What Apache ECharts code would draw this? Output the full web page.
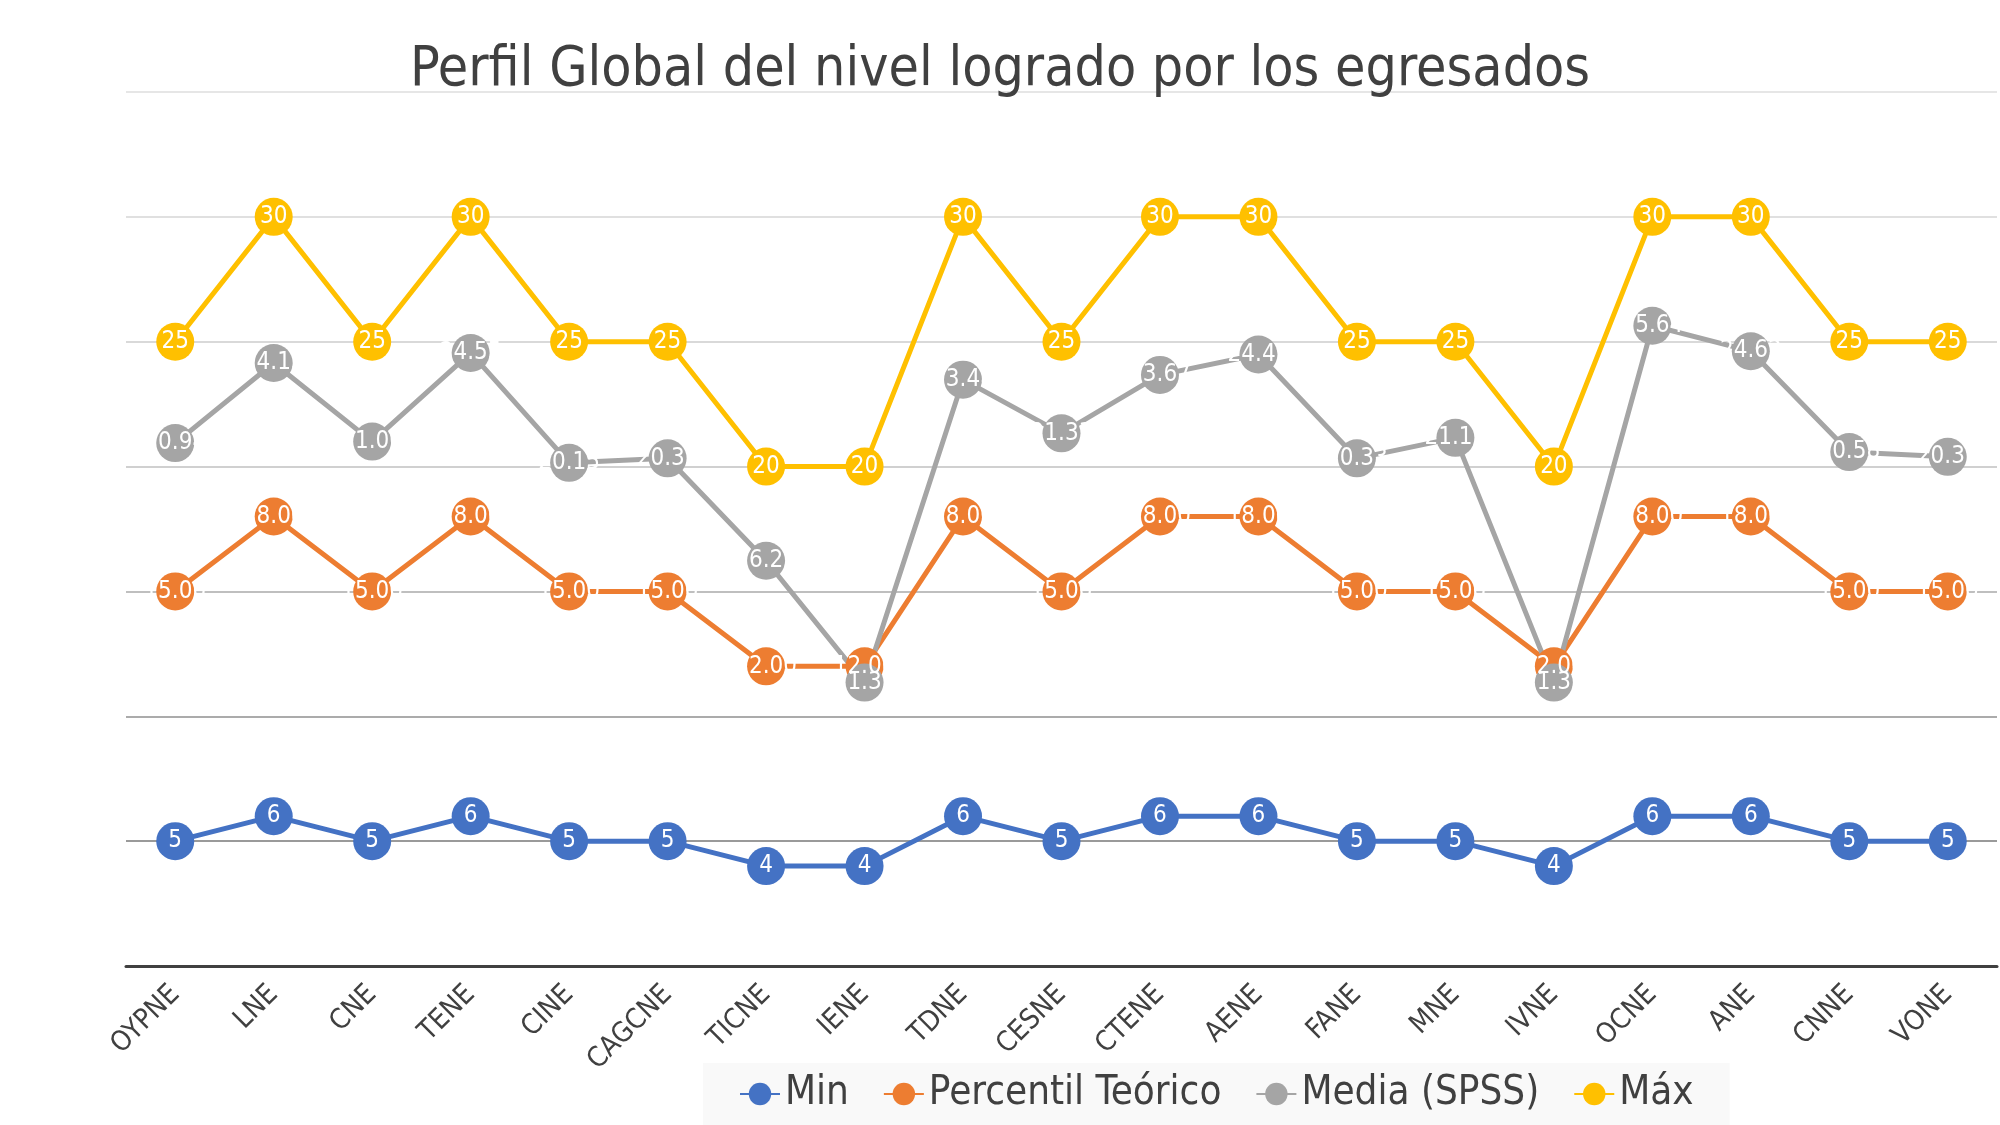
<!DOCTYPE html>
<html>
<head>
<meta charset="utf-8">
<script src="https://cdn.jsdelivr.net/npm/echarts@6/dist/echarts.min.js"></script>
<style>
html,body{margin:0;padding:0;background:#fff;}
#c{width:2000px;height:1125px;}
</style>
</head>
<body>
<div id="c"></div>
<script>
const categories = ['OYPNE','LNE','CNE','TENE','CINE','CAGCNE','TICNE','IENE','TDNE','CESNE','CTENE','AENE','FANE','MNE','IVNE','OCNE','ANE','CNNE','VONE'];
const minValues = [5,6,5,6,5,5,4,4,6,5,6,6,5,5,4,6,6,5,5];
const percentilValues = [15,18,15,18,15,15,12,12,18,15,18,18,15,15,12,18,18,15,15];
const mediaValues = [20.94,24.15,21.00,24.55,20.15,20.33,16.23,11.35,23.48,21.33,23.67,24.49,20.33,21.15,11.35,25.64,24.62,20.58,20.39];
const maxValues = [25,30,25,30,25,25,20,20,30,25,30,30,25,25,20,30,30,25,25];
const yTicks = [0,5,10,15,20,25,30,35];

const narrow = "'Liberation Sans Narrow','DejaVu Sans Condensed',sans-serif";

function mk(name, data, color, fmt) {
  return {
    name: name,
    type: 'line',
    data: data,
    symbol: 'circle',
    symbolSize: 38,
    lineStyle: {color: color, width: 5},
    itemStyle: {color: color},
    label: {
      show: true,
      position: 'inside',
      color: '#ffffff',
      fontFamily: narrow,
      fontSize: 24,
      formatter: fmt
    },
    emphasis: {disabled: true},
    animation: false
  };
}

const chart = echarts.init(document.getElementById('c'));
chart.setOption({
  backgroundColor: '#ffffff',
  animation: false,
  title: {
    text: 'Perfil Global del nivel logrado por los egresados',
    left: 'center',
    top: 38,
    textStyle: {color: '#404040', fontSize: 55, fontWeight: 'normal', fontFamily: narrow}
  },
  grid: {left: 126, right: 3, top: 92, bottom: 159},
  xAxis: {
    type: 'category',
    data: categories,
    boundaryGap: true,
    axisLine: {show: true, lineStyle: {color: '#404040', width: 3}},
    axisTick: {show: false},
    axisLabel: {rotate: 45, color: '#404040', fontSize: 28, fontFamily: narrow, margin: 24, interval: 0}
  },
  yAxis: {
    type: 'value',
    min: yTicks[0],
    max: yTicks[yTicks.length - 1],
    interval: 5,
    axisLabel: {show: false},
    axisLine: {show: false},
    axisTick: {show: false},
    splitLine: {lineStyle: {color: ['#404040','#9a9a9a','#ababab','#bfbfbf','#d0d0d0','#d9d9d9','#e0e0e0','#e6e6e6'], width: 2}}
  },
  legend: {
    left: 703,
    top: 1063,
    padding: [11, 36, 11, 36],
    backgroundColor: '#f9f9f9',
    itemWidth: 40,
    itemHeight: 28,
    itemGap: 34,
    textStyle: {color: '#404040', fontSize: 40, fontFamily: narrow},
    data: ['Min','Percentil Teórico','Media (SPSS)','Máx']
  },
  series: [
    mk('Min', minValues, '#4472C4', p => String(p.value)),
    mk('Percentil Teórico', percentilValues, '#ED7D31', p => p.value.toFixed(2)),
    mk('Media (SPSS)', mediaValues, '#A5A5A5', p => p.value.toFixed(2)),
    mk('Máx', maxValues, '#FFC000', p => String(p.value))
  ]
});
</script>
</body>
</html>
